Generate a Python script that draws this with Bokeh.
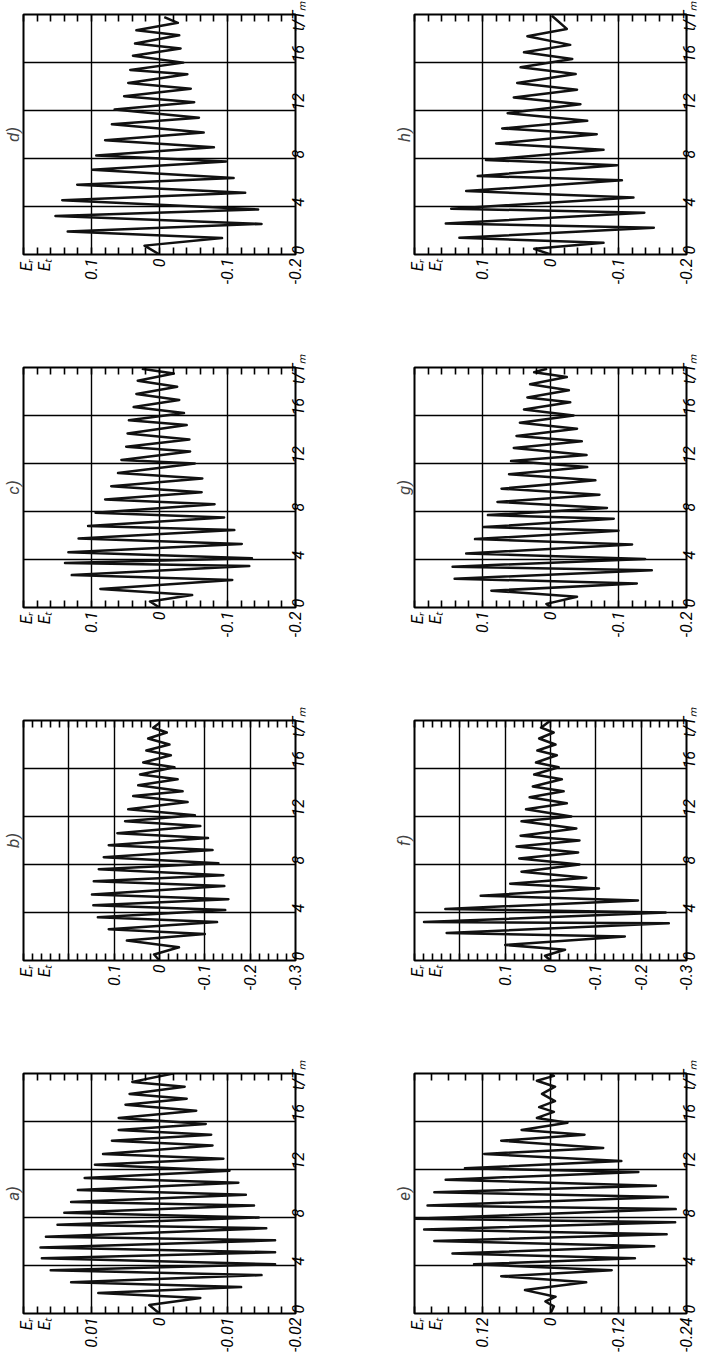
import numpy as np
from bokeh.plotting import figure
from bokeh.layouts import column, row
from bokeh.models import Range1d, FixedTicker, LinearAxis
from bokeh.embed import file_html
from bokeh.resources import INLINE

# ---------------- data (turning points) ----------------
t_a = [0.0, 0.7, 1.3, 1.7, 2.2, 2.6, 3.2, 3.6, 4.1, 4.6, 5.1, 5.5, 6.1, 6.4, 7.1, 7.4, 8.0, 8.4, 9.0, 9.3,
       9.9, 10.3, 10.9, 11.3, 11.9, 12.4, 12.9, 13.3, 14.0, 14.4, 14.9, 15.3, 15.8, 16.3, 16.9, 17.4, 17.9, 18.3,
       18.9, 19.3, 20.0]
E_a = [0.0, 0.0015, -0.006, 0.009, -0.012, 0.013, -0.015, 0.016, -0.017, 0.0173, -0.017, 0.0175, -0.017, 0.0167,
       -0.0157, 0.015, -0.0146, 0.014, -0.0139, 0.013, -0.0127, 0.012, -0.0116, 0.011, -0.0103, 0.0095, -0.0094,
       0.0083, -0.0078, 0.007, -0.0076, 0.006, -0.0068, 0.006, -0.0054, 0.005, -0.004, 0.0044, -0.0037, 0.004, -0.002]

t_b = [0.0, 0.5, 1.1, 1.66, 2.2, 2.6, 3.2, 3.6, 4.2, 4.6, 5.1, 5.5, 6.2, 6.6, 7.1, 7.6, 8.1, 8.6, 9.2, 9.6,
       10.2, 10.6, 11.2, 11.6, 12.1, 12.6, 13.2, 13.7, 14.1, 14.6, 15.1, 15.5, 16.1, 16.5, 17.1, 17.5, 18.0, 18.5,
       19.0, 19.4, 19.8]
E_b = [0.0, 0.012, -0.043, 0.072, -0.10, 0.112, -0.127, 0.136, -0.145, 0.146, -0.152, 0.149, -0.143, 0.145,
       -0.141, 0.134, -0.13, 0.123, -0.117, 0.112, -0.107, 0.093, -0.09, 0.076, -0.078, 0.069, -0.062, 0.058,
       -0.051, 0.047, -0.04, 0.043, -0.033, 0.036, -0.025, 0.029, -0.022, 0.025, -0.016, 0.014, 0.0]

t_c = [0.0, 0.5, 1.04, 1.55, 2.3, 2.7, 3.45, 3.7, 4.1, 4.6, 5.3, 5.75, 6.45, 6.8, 7.5, 7.9, 8.6, 9.0, 9.6, 10.1,
       10.75, 11.2, 12.0, 12.3, 13.0, 13.4, 14.0, 14.5, 15.2, 15.6, 16.2, 16.7, 17.3, 17.8, 18.4, 18.9, 19.5, 19.9]
E_c = [0.0, 0.014, -0.048, 0.087, -0.107, 0.129, -0.132, 0.139, -0.136, 0.134, -0.121, 0.119, -0.11, 0.105,
       -0.095, 0.094, -0.081, 0.08, -0.062, 0.071, -0.063, 0.061, -0.052, 0.056, -0.045, 0.049, -0.044, 0.047,
       -0.04, 0.045, -0.036, 0.038, -0.029, 0.034, -0.026, 0.032, -0.021, 0.026]

t_d = [0.0, 0.74, 1.37, 1.92, 2.55, 3.21, 3.76, 4.53, 5.14, 5.82, 6.37, 7.06, 7.75, 8.24, 8.93, 9.53, 10.16,
       10.85, 11.4, 12.09, 12.69, 13.19, 13.82, 14.29, 15.03, 15.38, 15.99, 16.57, 17.17, 17.58, 18.27, 18.68,
       19.31, 19.78]
E_d = [0.0, 0.022, -0.092, 0.135, -0.15, 0.153, -0.145, 0.143, -0.126, 0.121, -0.109, 0.099, -0.098, 0.093,
       -0.08, 0.08, -0.065, 0.07, -0.058, 0.066, -0.051, 0.052, -0.046, 0.046, -0.041, 0.043, -0.035, 0.039,
       -0.031, 0.036, -0.029, 0.034, -0.027, -0.007]

t_e = [0.0, 0.6, 1.0, 1.4, 1.95, 2.6, 3.1, 3.6, 4.1, 4.6, 5.0, 5.6, 6.05, 6.6, 7.0, 7.6, 7.9, 8.7, 9.0, 9.7,
       10.1, 10.65, 11.15, 11.8, 12.1, 12.7, 13.3, 13.8, 14.4, 14.9, 15.3, 15.9, 16.3, 16.8, 17.2, 17.7, 18.3,
       18.9, 19.4, 19.8, 20.0]
E_e = [0.0, -0.006, 0.009, -0.009, 0.045, -0.063, 0.087, -0.108, 0.135, -0.149, 0.173, -0.183, 0.205, -0.205,
       0.223, -0.22, 0.24, -0.221, 0.217, -0.207, 0.205, -0.186, 0.185, -0.155, 0.151, -0.125, 0.117, -0.093,
       0.087, -0.06, 0.051, -0.03, 0.024, -0.006, 0.02, -0.008, 0.015, -0.008, 0.024, -0.006, 0.0]

t_f = [0.0, 0.4, 0.9, 1.3, 2.0, 2.3, 3.1, 3.2, 4.0, 4.3, 5.0, 5.4, 6.0, 6.4, 6.9, 7.4, 8.0, 8.5, 9.0, 9.5,
       10.0, 10.4, 11.0, 11.6, 12.0, 12.6, 13.1, 13.6, 14.1, 14.5, 15.1, 15.5, 16.1, 16.5, 17.1, 17.5, 18.0, 18.5,
       19.0, 19.4, 20.0]
E_f = [0.0, 0.012, -0.032, 0.1, -0.164, 0.229, -0.261, 0.279, -0.254, 0.232, -0.193, 0.154, -0.107, 0.089,
       -0.079, 0.064, -0.064, 0.069, -0.061, 0.075, -0.064, 0.066, -0.057, 0.064, -0.046, 0.054, -0.036, 0.046,
       -0.029, 0.039, -0.025, 0.036, -0.018, 0.032, -0.014, 0.029, -0.011, 0.025, -0.007, 0.021, 0.0]

t_g = [0.0, 0.3, 0.9, 1.4, 2.0, 2.4, 3.1, 3.4, 4.05, 4.5, 5.25, 5.7, 6.4, 6.7, 7.4, 7.7, 8.3, 8.8, 9.4, 9.9,
       10.6, 11.1, 11.7, 12.2, 12.7, 13.3, 13.85, 14.3, 14.9, 15.4, 16.0, 16.5, 17.1, 17.5, 18.1, 18.6, 19.2,
       19.6, 19.9]
E_g = [0.0, 0.006, -0.039, 0.087, -0.127, 0.141, -0.149, 0.144, -0.139, 0.124, -0.12, 0.111, -0.1, 0.098,
       -0.093, 0.092, -0.083, 0.078, -0.072, 0.072, -0.066, 0.061, -0.054, 0.058, -0.053, 0.054, -0.046, 0.05,
       -0.039, 0.045, -0.034, 0.039, -0.029, 0.034, -0.027, 0.03, -0.024, 0.024, 0.005]

t_h = [0.0, 0.47, 0.97, 1.39, 2.23, 2.59, 3.48, 3.82, 4.74, 5.29, 6.18, 6.55, 7.44, 7.88, 8.72, 9.25, 10.03,
       10.5, 11.14, 11.78, 12.53, 13.09, 13.73, 14.29, 15.04, 15.6, 16.3, 16.85, 17.47, 18.19, 18.8, 19.9]
E_h = [0.0, 0.024, -0.078, 0.134, -0.152, 0.154, -0.138, 0.146, -0.122, 0.124, -0.105, 0.107, -0.098, 0.095,
       -0.078, 0.08, -0.068, 0.071, -0.054, 0.063, -0.044, 0.054, -0.039, 0.049, -0.037, 0.044, -0.032, 0.039,
       -0.029, 0.034, -0.024, -0.002]

# axis ticks / labels
ticks_a = [0.01, 0, -0.01, -0.02];  labels_a = ["0.01", "0", "-0.01", "-0.02"]
ticks_b = [0.1, 0, -0.1, -0.2, -0.3]; labels_b = ["0.1", "0", "-0.1", "-0.2", "-0.3"]
ticks_c = [0.1, 0, -0.1, -0.2];  labels_c = ["0.1", "0", "-0.1", "-0.2"]
ticks_e = [0.12, 0, -0.12, -0.24]; labels_e = ["0.12", "0", "-0.12", "-0.24"]
t_ticks = [0, 4, 8, 12, 16]
t_labels = ["0", "4", "8", "12", "16"]
E_TITLE = "E\u1d63\nE\u209c"
T_TITLE = "t/T\u2098"

FONT = "Roboto"
FS = "16px"
FW, FH = 272, 240
BG = "white"


def panel(letter, t, E, emax, ticks, labels, grid, minor_step, b_right, b_bottom):
    p = figure(frame_width=FW, frame_height=FH,
               x_range=Range1d(emax, -emax), y_range=Range1d(0, 20),
               x_axis_location="below", y_axis_location="right",
               title=letter, title_location="left",
               min_border_left=18, min_border_right=b_right,
               min_border_top=14, min_border_bottom=b_bottom,
               output_backend="svg", toolbar_location=None,
               background_fill_color=BG, border_fill_color=BG)
    p.title.text_font = FONT
    p.title.text_font_style = "italic"
    p.title.text_font_size = "17px"
    p.title.align = "center"
    p.title.standoff = 1

    p.outline_line_color = "black"
    p.outline_line_width = 2
    p.outline_line_alpha = 1.0

    lab_pos = emax - 12.0 / FW * (2 * emax)
    minors = [float(v) for v in np.round(np.arange(-emax, emax + minor_step / 2, minor_step), 6)]
    overrides = {float(k): v for k, v in zip(ticks, labels)}
    overrides[lab_pos] = E_TITLE
    xt = FixedTicker(ticks=[float(v) for v in ticks] + [lab_pos], minor_ticks=minors)

    ax = p.xaxis[0]
    ax.ticker = xt
    ax.major_label_overrides = overrides
    ax.major_label_orientation = np.pi / 2
    ax.major_label_text_font = FONT
    ax.major_label_text_font_style = "italic"
    ax.major_label_text_font_size = FS
    ax.major_label_text_color = "black"
    ax.major_label_text_line_height = 0.95
    ax.major_label_standoff = 4
    ax.major_tick_line_color = None
    ax.major_tick_in = 0
    ax.major_tick_out = 0
    ax.minor_tick_line_color = "black"
    ax.minor_tick_line_width = 1.6
    ax.minor_tick_in = 7
    ax.minor_tick_out = 0
    ax.axis_line_color = None

    top = LinearAxis(ticker=FixedTicker(ticks=[], minor_ticks=minors),
                     major_label_text_font_size="0px", major_label_standoff=0,
                     major_tick_line_color=None, major_tick_in=0, major_tick_out=0,
                     minor_tick_line_color="black", minor_tick_line_width=1.6,
                     minor_tick_in=7, minor_tick_out=0, axis_line_color=None)
    p.add_layout(top, "above")

    ya = p.yaxis[0]
    ypos = 18.85
    ya.ticker = FixedTicker(ticks=[float(v) for v in t_ticks] + [ypos], minor_ticks=[])
    yo = {float(k): v for k, v in zip(t_ticks, t_labels)}
    yo[ypos] = T_TITLE
    ya.major_label_overrides = yo
    ya.major_label_orientation = np.pi / 2
    ya.major_label_text_font = FONT
    ya.major_label_text_font_style = "italic"
    ya.major_label_text_font_size = FS
    ya.major_label_text_color = "black"
    ya.major_label_standoff = 3
    ya.major_tick_line_color = None
    ya.major_tick_in = 0
    ya.major_tick_out = 0
    ya.minor_tick_line_color = None
    ya.axis_line_color = None

    p.xgrid.ticker = FixedTicker(ticks=[float(v) for v in grid])
    p.ygrid.ticker = FixedTicker(ticks=[4, 8, 12, 16])
    for g in (p.xgrid[0], p.ygrid[0]):
        g.grid_line_color = "black"
        g.grid_line_alpha = 1.0
        g.grid_line_width = 1.4

    p.line(x=E, y=t, line_color="#111111", line_width=2.5, line_join="round")
    return p


RL, RR = 96, 22
pd_ = panel("d)", t_d, E_d, 0.2, ticks_c, labels_c, [0.1, 0, -0.1], 0.02, RL, 99)
ph = panel("h)", t_h, E_h, 0.2, ticks_c, labels_c, [0.1, 0, -0.1], 0.02, RR, 99)
pc = panel("c)", t_c, E_c, 0.2, ticks_c, labels_c, [0.1, 0, -0.1], 0.02, RL, 99)
pg = panel("g)", t_g, E_g, 0.2, ticks_c, labels_c, [0.1, 0, -0.1], 0.02, RR, 99)
pb = panel("b)", t_b, E_b, 0.3, ticks_b, labels_b, [0.2, 0.1, 0, -0.1, -0.2], 0.02, RL, 99)
pf = panel("f)", t_f, E_f, 0.3, ticks_b, labels_b, [0.2, 0.1, 0, -0.1, -0.2], 0.02, RR, 99)
pa = panel("a)", t_a, E_a, 0.02, ticks_a, labels_a, [0.01, 0, -0.01], 0.002, RL, 30)
pe = panel("e)", t_e, E_e, 0.24, ticks_e, labels_e, [0.12, 0, -0.12], 0.03, RR, 30)

layout = column(row(pd_, ph), row(pc, pg), row(pb, pf), row(pa, pe))

with open("out.html", "w") as f:
    f.write(file_html(layout, INLINE))
